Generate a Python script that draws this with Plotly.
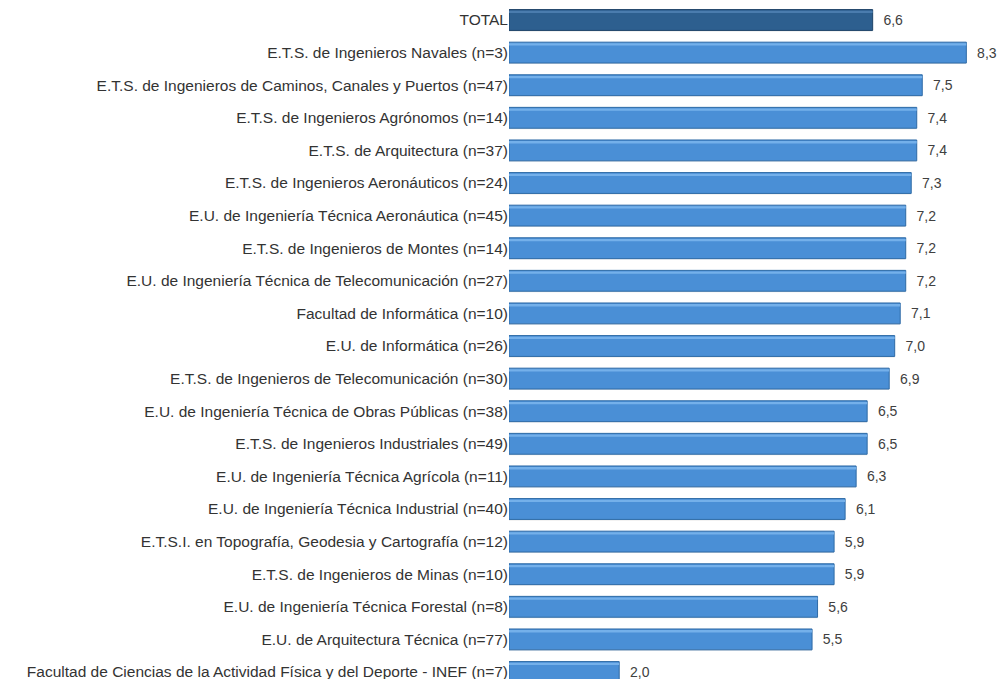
import plotly.graph_objects as go

categories = [
    "TOTAL",
    "E.T.S. de Ingenieros Navales (n=3)",
    "E.T.S. de Ingenieros de Caminos, Canales y Puertos (n=47)",
    "E.T.S. de Ingenieros Agrónomos (n=14)",
    "E.T.S. de Arquitectura (n=37)",
    "E.T.S. de Ingenieros Aeronáuticos (n=24)",
    "E.U. de Ingeniería Técnica Aeronáutica (n=45)",
    "E.T.S. de Ingenieros de Montes (n=14)",
    "E.U. de Ingeniería Técnica de Telecomunicación (n=27)",
    "Facultad de Informática (n=10)",
    "E.U. de Informática (n=26)",
    "E.T.S. de Ingenieros de Telecomunicación (n=30)",
    "E.U. de Ingeniería Técnica de Obras Públicas (n=38)",
    "E.T.S. de Ingenieros Industriales (n=49)",
    "E.U. de Ingeniería Técnica Agrícola (n=11)",
    "E.U. de Ingeniería Técnica Industrial (n=40)",
    "E.T.S.I. en Topografía, Geodesia y Cartografía (n=12)",
    "E.T.S. de Ingenieros de Minas (n=10)",
    "E.U. de Ingeniería Técnica Forestal (n=8)",
    "E.U. de Arquitectura Técnica (n=77)",
    "Facultad de Ciencias de la Actividad Física y del Deporte - INEF (n=7)",
]
values = [6.6, 8.3, 7.5, 7.4, 7.4, 7.3, 7.2, 7.2, 7.2, 7.1, 7.0, 6.9, 6.5, 6.5, 6.3, 6.1, 5.9, 5.9, 5.6, 5.5, 2.0]
value_labels = ["\u00a0\u00a0" + f"{v:.1f}".replace(".", ",") for v in values]

n = len(values)
colors = ["#2D5F8F"] + ["#4A8FD6"] * (n - 1)
line_colors = ["#1F4468"] + ["#2F6BA6"] * (n - 1)
highlight = ["#4A7CAE"] + ["#74B0EA"] * (n - 1)

FONT = "Liberation Sans, Arial, sans-serif"

fig = go.Figure()
# soft shadow under bars
fig.add_trace(go.Bar(
    y=categories, x=values, orientation="h",
    width=0.64, offset=-0.29,
    marker=dict(color="rgba(0,0,0,0.10)", line=dict(width=0)),
    hoverinfo="skip",
))
fig.add_trace(go.Bar(
    y=categories,
    x=values,
    orientation="h",
    width=0.64, offset=-0.32,
    marker=dict(color=colors, line=dict(color=line_colors, width=1)),
    text=value_labels,
    textposition="outside",
    cliponaxis=False,
    textfont=dict(family=FONT, size=14, color="#404040"),
    hoverinfo="skip",
))
# top highlight strip
fig.add_trace(go.Bar(
    y=categories, x=values, orientation="h",
    width=0.07, offset=-0.285,
    marker=dict(color=highlight, line=dict(width=0)),
    hoverinfo="skip",
))

W, H = 999, 679
left = 509
px_per_unit = 55.1
row = 32.6
top_val = -20 / row
bottom_val = top_val + H / row

fig.update_layout(
    width=W, height=H,
    barmode="overlay",
    margin=dict(l=left, r=0, t=0, b=0, autoexpand=False),
    plot_bgcolor="white", paper_bgcolor="white",
    showlegend=False,
    font=dict(family=FONT, size=15, color="#333333"),
    xaxis=dict(range=[0, (W - left) / px_per_unit], visible=False, showgrid=False, zeroline=False),
    yaxis=dict(
        type="category",
        categoryorder="array", categoryarray=categories,
        range=[bottom_val, top_val],
        showgrid=False, zeroline=False, showline=False, ticks="",
        ticklabelstandoff=0,
        tickfont=dict(family=FONT, size=15.5, color="#333333"),
        automargin=False,
    ),
)

fig.write_html(
    "out.html",
    config={"displayModeBar": False},
    post_script="document.body.style.margin='0';document.body.style.overflow='hidden';",
)
